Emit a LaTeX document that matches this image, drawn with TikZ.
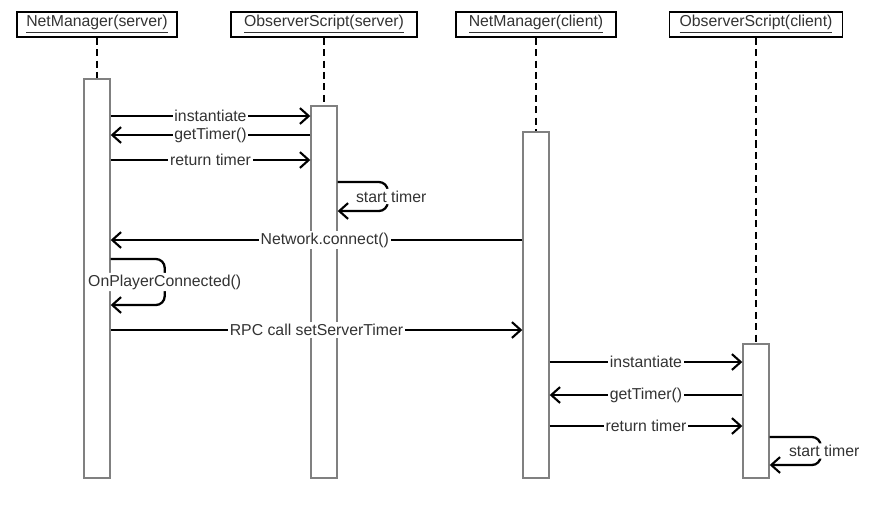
\documentclass[tikz,border=0pt]{standalone}
\usepackage{fontspec}
\setmainfont{Liberation Sans}
\usetikzlibrary{arrows.meta}

\begin{document}
\begin{tikzpicture}[
  x = 0.02cm, y = -0.02cm,
  font = \fontsize{9}{11}\selectfont,
  head/.style = {draw, line width=0.8pt, minimum height=5mm, inner sep=1pt,
                 text=black!80},
  bar/.style  = {draw=black!50, line width=0.8pt, fill=white,
                 minimum width=5.2mm, inner sep=0pt},
  life/.style = {dash pattern=on 4pt off 2.5pt, line width=0.75pt},
  msg/.style  = {-{Straight Barb[length=5pt,width=9pt,line width=1.2pt]},
                 line width=1.3pt},
  lbl/.style  = {fill=white, inner sep=1pt, text=black!80}
]
  \useasboundingbox (0,0) rectangle (876,505);

  \node[head, minimum width=3.2cm]  (nms) at (97,24.5)  {\underline{NetManager(server)}};
  \node[head, minimum width=3.72cm] (oss) at (324,24.5) {\underline{ObserverScript(server)}};
  \node[head, minimum width=3.2cm]  (nmc) at (536,24.5) {\underline{NetManager(client)}};
  \node[head, minimum width=3.46cm] (osc) at (756,24.5) {\underline{ObserverScript(client)}};

  \node[bar, minimum height=7.98cm] (bar1) at (97,278.5) {};
  \node[bar, minimum height=7.44cm] (bar2) at (324,292)  {};
  \node[bar, minimum height=6.92cm] (bar3) at (536,305)  {};
  \node[bar, minimum height=2.68cm] (bar4) at (756,411)  {};

  \draw[life] (nms.south) -- (bar1.north);
  \draw[life] (oss.south) -- (bar2.north);
  \draw[life] (nmc.south) -- (bar3.north);
  \draw[life] (osc.south) -- (bar4.north);

  % server side
  \draw[msg] (bar1.east |- 0,116) -- node[lbl]{instantiate}  (bar2.west |- 0,116);
  \draw[msg] (bar2.west |- 0,135) -- node[lbl]{getTimer()}   (bar1.east |- 0,135);
  \draw[msg] (bar1.east |- 0,160) -- node[lbl]{return timer} (bar2.west |- 0,160);
  \draw[msg, rounded corners=5pt] (bar2.east |- 0,182) -- ++(50,0)
    -- node[lbl, xshift=2pt]{start timer} ++(0,29) -- (bar2.east |- 0,211);

  \draw[msg] (bar3.west |- 0,240) -- node[lbl, pos=0.48]{Network.connect()} (bar1.east |- 0,240);
  \draw[msg, rounded corners=5pt] (bar1.east |- 0,259) -- ++(54,0)
    -- node[lbl]{OnPlayerConnected()} ++(0,46) -- (bar1.east |- 0,305);
  \draw[msg] (bar1.east |- 0,330) -- node[lbl]{RPC call setServerTimer} (bar3.west |- 0,330);

  % client side
  \draw[msg] (bar3.east |- 0,362) -- node[lbl]{instantiate}  (bar4.west |- 0,362);
  \draw[msg] (bar4.west |- 0,395) -- node[lbl]{getTimer()}   (bar3.east |- 0,395);
  \draw[msg] (bar3.east |- 0,426) -- node[lbl]{return timer} (bar4.west |- 0,426);
  \draw[msg, rounded corners=5pt] (bar4.east |- 0,437) -- ++(51,0)
    -- node[lbl, xshift=2pt]{start timer} ++(0,28) -- (bar4.east |- 0,465);
\end{tikzpicture}
\end{document}
